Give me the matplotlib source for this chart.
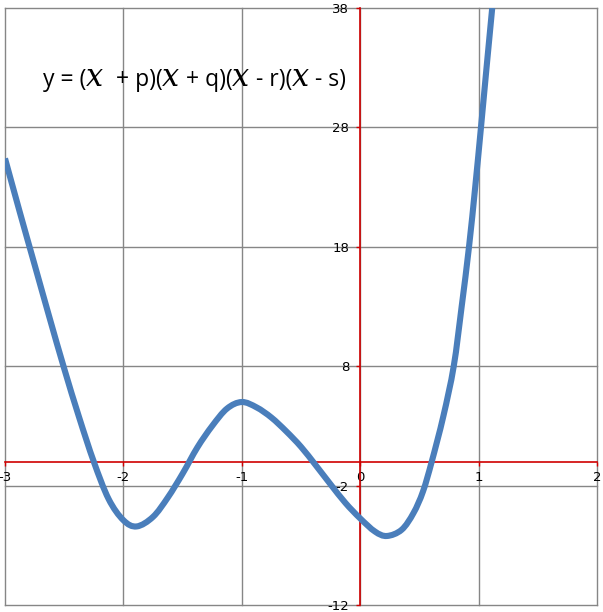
import matplotlib
matplotlib.use("Agg")
import matplotlib.pyplot as plt
from matplotlib.path import Path
from matplotlib.patches import PathPatch
from matplotlib.offsetbox import TextArea, HPacker, AnchoredOffsetbox

# puntos (x, y)
curva_x = [-3.0, -2.875, -2.75, -2.625, -2.5, -2.375, -2.25, -2.125, -2.0, -1.888,
           -1.75, -1.625, -1.5, -1.375, -1.25, -1.125, -1.0, -0.875, -0.75, -0.625,
           -0.5, -0.375, -0.25, -0.125, 0.0, 0.125, 0.225, 0.35, 0.45, 0.53,
           0.604, 0.702, 0.79, 0.857, 0.919, 0.972, 1.02, 1.068, 1.115]
curva_y = [25.4, 20.9, 16.5, 12.1, 7.8, 3.75, 0.0, -3.12, -4.9, -5.42,
           -4.62, -3.0, -1.0, 1.2, 3.0, 4.45, 5.0, 4.55, 3.7, 2.55,
           1.25, -0.3, -1.9, -3.45, -4.75, -5.85, -6.22, -5.7, -4.3, -2.5,
           0.0, 3.8, 8.0, 13.0, 18.0, 23.06, 28.0, 33.1, 38.0]

ticks_x = [-3, -2, -1, 0, 1, 2]
ticks_y = [-12, -2, 8, 18, 28, 38]
# trozos del titulo: (texto, es_variable)
titulo = [("y = (", False), ("x", True), ("  + p)(", False), ("x", True),
          (" + q)(", False), ("x", True), (" - r)(", False), ("x", True),
          (" - s)", False)]


def linea_suave(xs, ys):
    # linea suavizada tipo Excel: curvas Bezier que pasan por los puntos
    pts = list(zip(xs, ys))
    verts = [pts[0]]
    codes = [Path.MOVETO]
    n = len(pts)
    for i in range(n - 1):
        p0 = pts[i - 1] if i > 0 else pts[i]
        p1 = pts[i]
        p2 = pts[i + 1]
        p3 = pts[i + 2] if i + 2 < n else pts[i + 1]
        c1 = (p1[0] + (p2[0] - p0[0]) / 6, p1[1] + (p2[1] - p0[1]) / 6)
        c2 = (p2[0] - (p3[0] - p1[0]) / 6, p2[1] - (p3[1] - p1[1]) / 6)
        verts += [c1, c2, p2]
        codes += [Path.CURVE4] * 3
    return Path(verts, codes)


fig = plt.figure(figsize=(6.03, 6.12), dpi=100)
ax = fig.add_axes([5 / 603, 7 / 612, 592 / 603, 597 / 612])
ax.set_xlim(-3, 2)
ax.set_ylim(-12, 38)

gris = "#868686"
rojo = "#D00000"

# rejilla y marco
for xv in ticks_x:
    ax.axvline(xv, color=gris, lw=1, zorder=1, clip_on=False)
for yv in ticks_y:
    ax.axhline(yv, color=gris, lw=1, zorder=1, clip_on=False)

# ejes rojos en el origen
ax.spines["bottom"].set_position(("data", 0))
ax.spines["left"].set_position(("data", 0))
for lado in ["bottom", "left"]:
    ax.spines[lado].set_color(rojo)
    ax.spines[lado].set_linewidth(1.2)
    ax.spines[lado].set_zorder(2)
for lado in ["top", "right"]:
    ax.spines[lado].set_visible(False)

ax.set_xticks(ticks_x)
ax.set_yticks(ticks_y)
ax.tick_params(axis="both", direction="out", length=3, width=1, colors=rojo,
               labelcolor="black", labelsize=9.5)
ax.tick_params(axis="x", pad=4)
ax.tick_params(axis="y", pad=5)
ax.set_xticklabels([str(v) for v in ticks_x])
ax.set_yticklabels([str(v) for v in ticks_y])

ax.add_patch(PathPatch(linea_suave(curva_x, curva_y), facecolor="none",
                       edgecolor="#4A7EBB", lw=4.4, capstyle="butt",
                       joinstyle="round", zorder=3))

# titulo con la x en cursiva
trozos = []
for texto, es_var in titulo:
    if es_var:
        props = dict(family="DejaVu Serif", style="italic", size=22)
    else:
        props = dict(family="Open Sans", size=16.5)
    trozos.append(TextArea(texto, textprops=props))
caja = HPacker(children=trozos, align="baseline", pad=0, sep=0)
anc = AnchoredOffsetbox(loc="center left", child=caja, frameon=False,
                        bbox_to_anchor=(38 / 592, 0.884),
                        bbox_transform=ax.transAxes, borderpad=0, pad=0)
anc.set_zorder(4)
ax.add_artist(anc)

fig.savefig("out.png", dpi=100)
